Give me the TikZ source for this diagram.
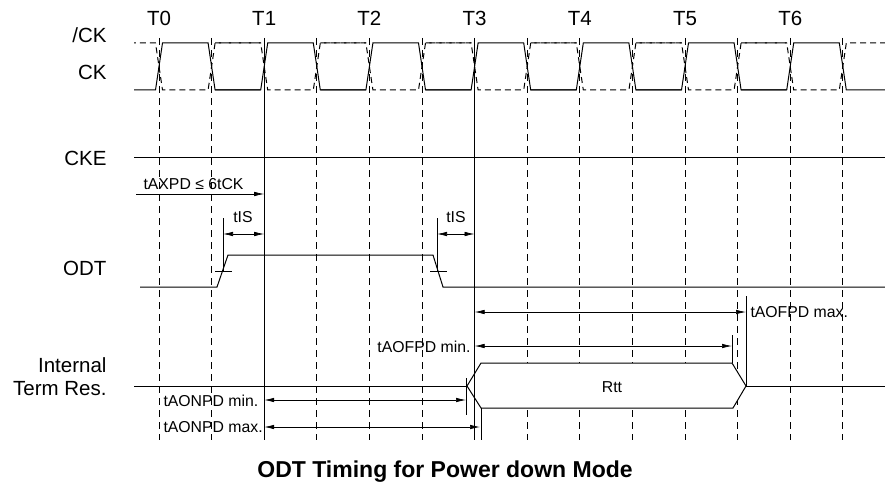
\documentclass[tikz,border=0pt]{standalone}
\usepackage{fontspec}
\setmainfont{Liberation Sans}
\usetikzlibrary{arrows.meta}
\newcommand{\signamefont}{\fontsize{20.5}{24}\selectfont}
\newcommand{\tlabelfont}{\fontsize{15.8}{19}\selectfont}
\newcommand{\titlefont}{\fontsize{23}{27}\selectfont}

\begin{document}
\begin{tikzpicture}[x=1pt,y=-1pt,line width=1pt,
  tickline/.style={line width=0.7pt,dash pattern=on 7pt off 5pt},
  clkbar/.style={dash pattern=on 6pt off 4pt},
  marker/.style={line width=0.7pt},
  tspan/.style={line width=0.7pt,{Latex[length=10pt,width=4.5pt]}-{Latex[length=10pt,width=4.5pt]}},
  fwd/.style={line width=0.7pt,-{Latex[length=10pt,width=4.5pt]}},
  signame/.style={inner sep=0pt,font=\signamefont},
  tlabel/.style={inner sep=0pt,font=\tlabelfont}]
\useasboundingbox (0,0) rectangle (885,484);

% clock edge grid
\foreach \k in {0,1,3,4,5,7,8,9,10,11,12,13}
  \draw[tickline] ({159+52.6*\k},38) -- ({159+52.6*\k},440);

% clock pair
\begin{scope}
\clip (134,30) rectangle (885,100);
\foreach \j in {0,...,6}{
  \pgfmathsetmacro{\x}{159+105.2*\j}
  \draw (\x-49.1,90) -- (\x-3.5,90) -- (\x+3.5,43) -- (\x+49.1,43) -- (\x+56.1,90) -- (\x+101.7,90);
  \draw[clkbar] (\x-49.1,43) -- (\x-3.5,43) -- (\x+3.5,90) -- (\x+49.1,90) -- (\x+56.1,43) -- (\x+101.7,43);
}
\end{scope}
\foreach \i in {0,...,6}
  \node[signame,anchor=base] (t\i) at ({159+105.2*\i},26) {T\i};

% signal names
\node[signame,anchor=base east] (nck) at (107,43) {/CK};
\node[signame,anchor=base east] (ck) at (107,80) {CK};
\node[signame,anchor=base east] (cke) at (107,165) {CKE};
\node[signame,anchor=base east] (odt) at (107,275) {ODT};
\node[signame,anchor=base east] (term1) at (107,372) {Internal};
\node[signame,anchor=base east] (term2) at (107,395) {Term Res.};

% CKE and ODT
\draw (134,157.5) -- (885,157.5);
\draw (140,287) -- (217,287) -- (228,255) -- (433,255) -- (443,287) -- (885,287);
\draw[marker] (215,271) -- (232,271);
\draw[marker] (430,271) -- (447,271);

% internal termination
\draw (134,386) -- (467,386);
\draw[fill=white] (467,386) -- (481,363) -- (732,363) -- (746,386) -- (733,408) -- (481,408) -- cycle;
\draw (746,386) -- (885,386);
\node[tlabel,anchor=base] (rtt) at (612,392) {Rtt};

% T1 and T3 references
\coordinate (t1top) at (264.2,38);
\coordinate (t1bot) at (264.2,440);
\coordinate (t3top) at (474.6,38);
\coordinate (t3bot) at (474.6,440);
\draw (t1top) -- (t1bot);
\draw (t3top) -- (t3bot);

% markers
\coordinate (isAtop) at (223,218);  \coordinate (isAbot) at (223,272);
\coordinate (isBtop) at (437,218);  \coordinate (isBbot) at (437,272);
\coordinate (offmaxtop) at (746,296); \coordinate (offmaxbot) at (746,386);
\coordinate (offmintop) at (732,335); \coordinate (offminbot) at (732,363);
\coordinate (onmintop) at (466,378); \coordinate (onminbot) at (466,415);
\coordinate (onmaxtop) at (481,408); \coordinate (onmaxbot) at (481,440);
\draw[marker] (isAtop) -- (isAbot);
\draw[marker] (isBtop) -- (isBbot);
\draw[marker] (offmaxtop) -- (offmaxbot);
\draw[marker] (offmintop) -- (offminbot);
\draw[marker] (onmintop) -- (onminbot);
\draw[marker] (onmaxtop) -- (onmaxbot);

% timing arrows
\coordinate (axpdA) at (136,194);   \coordinate (axpdB) at (264.2,194);
\coordinate (isA) at (223,234);     \coordinate (isB) at (264.2,234);
\coordinate (isC) at (437,234);     \coordinate (isD) at (474.6,234);
\coordinate (offmaxA) at (474.6,312); \coordinate (offmaxB) at (746,312);
\coordinate (offminA) at (474.6,346); \coordinate (offminB) at (732,346);
\coordinate (onminA) at (264.2,400); \coordinate (onminB) at (466,400);
\coordinate (onmaxA) at (264.2,427); \coordinate (onmaxB) at (480,427);
\draw[fwd] (axpdA) -- (axpdB);
\draw[tspan] (isA) -- (isB);
\draw[tspan] (isC) -- (isD);
\draw[tspan] (offmaxA) -- (offmaxB);
\draw[tspan] (offminA) -- (offminB);
\draw[tspan] (onminA) -- (onminB);
\draw[tspan] (onmaxA) -- (onmaxB);

\node[tlabel,anchor=base west] (axpd) at (143,189) {tAXPD ≤ 6tCK};
\node[tlabel,anchor=base] (is1) at (243,222) {tIS};
\node[tlabel,anchor=base] (is2) at (456,222) {tIS};
\node[tlabel,anchor=base west] (offmax) at (750,317) {tAOFPD max.};
\node[tlabel,anchor=base east] (offmin) at (471,352) {tAOFPD min.};
\node[tlabel,anchor=base west] (onmin) at (163,406) {tAONPD min.};
\node[tlabel,anchor=base west] (onmax) at (163,432) {tAONPD max.};

\node[font=\titlefont\bfseries,inner sep=0pt,anchor=base] (title) at (445,477) {ODT Timing for Power down Mode};
\end{tikzpicture}
\end{document}
